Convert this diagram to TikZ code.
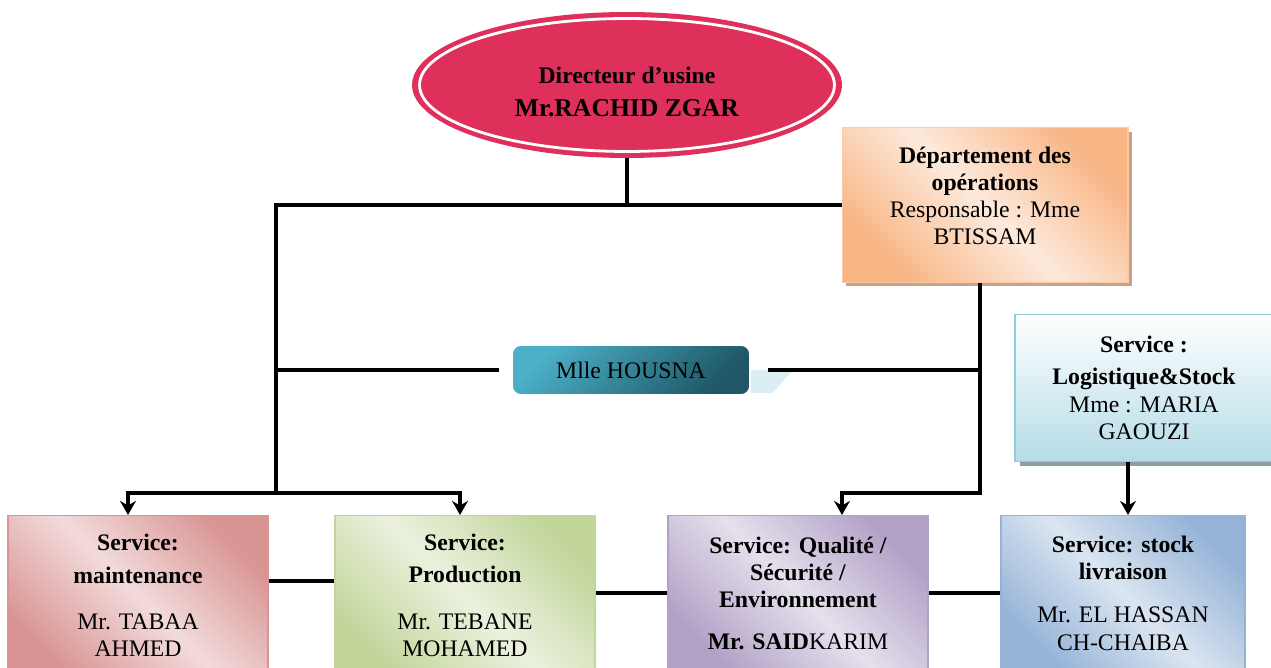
\documentclass[tikz,border=0pt]{standalone}
\usepackage{fontspec}
\setmainfont{Liberation Serif}
\usetikzlibrary{shapes.geometric,arrows.meta,shadows}

\definecolor{dircol}{HTML}{DF2F5B}
\definecolor{opdark}{HTML}{F8B483}
\definecolor{oplight}{HTML}{FDEADC}
\definecolor{opshade}{HTML}{C7A487}
\definecolor{hoslight}{HTML}{4BB0C8}
\definecolor{hosdark}{HTML}{1F5766}
\definecolor{hostail}{HTML}{DCEEF4}
\definecolor{logbot}{HTML}{B5DCE7}
\definecolor{logline}{HTML}{93CDDC}
\definecolor{logshade}{HTML}{8C9EA4}
\definecolor{maidark}{HTML}{D99594}
\definecolor{mailight}{HTML}{F2DBDB}
\definecolor{prodark}{HTML}{C2D69B}
\definecolor{prolight}{HTML}{EBF1DE}
\definecolor{qualdark}{HTML}{B2A1C7}
\definecolor{quallight}{HTML}{E5E0EC}
\definecolor{stodark}{HTML}{95B3D7}
\definecolor{stolight}{HTML}{DBE5F1}

\begin{document}
\begin{tikzpicture}[x=0.02cm, y=-0.02cm,
    every node/.style={font=\fontsize{13.5}{15.5}\selectfont, align=center},
    link/.style={line width=2.1pt},
    arr/.style={link, -{Stealth[length=8pt,width=9pt]}},
    service/.style={draw=#1dark, line width=0.8pt, anchor=north,
      minimum width=5.2cm, minimum height=3.2cm,
      left color=#1dark, right color=#1dark, middle color=#1light,
      shading angle=135}]
      \useasboundingbox (0,0) rectangle (1271,668);

      % Director (top)
      \node[ellipse, fill=dircol, minimum width=8.6cm, minimum height=2.92cm,
        inner sep=0pt] (dir) at (627,85) {};
      \draw[white, line width=1.6pt] (dir.center) ellipse [x radius=4.15cm, y radius=1.33cm];
      \node (dirT) at (627,92)
        {\textbf{Directeur d'usine}\\[3pt]{\fontsize{14.6}{16}\selectfont\textbf{Mr.RACHID ZGAR}}};

      % Boxes (upper)
      \node[draw=opdark!70, line width=0.6pt, minimum width=5.72cm, minimum height=3.1cm,
        left color=opdark, right color=opdark, middle color=oplight, shading angle=135,
        general shadow={fill=opshade, shadow xshift=0.08cm, shadow yshift=-0.08cm}]
        (dept) at (985,205) {};
      \node (deptT) at (985,196)
        {\textbf{Département des}\\\textbf{opérations}\\Responsable : Mme\\BTISSAM};

      \node[rounded corners=5pt, draw=white, line width=1pt, minimum width=4.76cm,
        minimum height=1cm, top color=hoslight, bottom color=hosdark, shading angle=45]
        (hous) at (631,370) {Mlle HOUSNA};
      \fill[hostail] (hous.east) -- ++(0.84cm,0) -- ++(-0.4cm,-0.46cm) -- ++(-0.44cm,0) -- cycle;

      \node[draw=logline, line width=1pt, minimum width=5.16cm, minimum height=2.94cm,
        top color=white, bottom color=logbot,
        general shadow={fill=logshade, shadow xshift=0.1cm, shadow yshift=-0.1cm}]
        (logi) at (1144,388)
        {\textbf{Service :}\\[2.8pt]\textbf{Logistique\&Stock}\\Mme : MARIA\\GAOUZI};

      % Boxes (services)
      \node[service=mai] (maint) at (138,515)
        {\textbf{Service:}\\[2.8pt]\textbf{maintenance}\\[11pt]Mr. TABAA\\AHMED};
      \node[service=pro] (prod) at (465,515)
        {\textbf{Service:}\\[2.8pt]\textbf{Production}\\[11pt]Mr. TEBANE\\MOHAMED};
      \node[service=qual, minimum height=3.1cm] (qual) at (798,515)
        {\textbf{Service: Qualité /}\\\textbf{Sécurité /}\\\textbf{Environnement}\\[8pt]\textbf{Mr. SAID}KARIM};
      \node[service=sto, minimum width=4.88cm, minimum height=3.1cm] (stock) at (1123,515)
        {\textbf{Service: stock}\\\textbf{livraison}\\[9pt]Mr. EL HASSAN\\CH-CHAIBA};

      % Links
      \coordinate (lv) at (276,493);
      \coordinate (dv) at ([xshift=-0.1cm]dept.south);
      \coordinate (qa) at (842,493);
      \coordinate (la) at ([xshift=-0.32cm]logi.south);

      \draw[link] (dir.south) -- (dir.south |- dept.west);
      \draw[link] (dept.west) -| (lv);
      \draw[arr] (lv) -| ([xshift=-0.2cm]maint.north);
      \draw[arr] (lv) -| ([xshift=-0.1cm]prod.north);
      \draw[link] ([xshift=-0.24cm]hous.west) -- (hous.west -| lv);
      \draw[link] ([xshift=0.34cm]hous.east) -- (hous.east -| dv);
      \draw[arr] (dv) |- (qa) -- (qa |- qual.north);
      \draw[arr] (la) -- (la |- stock.north);

      \draw[link] ([yshift=0.3cm]maint.east) -- ([yshift=0.3cm]prod.west);
      \draw[link] ([yshift=0.06cm]prod.east) -- ([yshift=0.06cm]prod.east -| qual.west);
      \draw[link] (qual.east) -- (qual.east -| stock.west);
\end{tikzpicture}
\end{document}
